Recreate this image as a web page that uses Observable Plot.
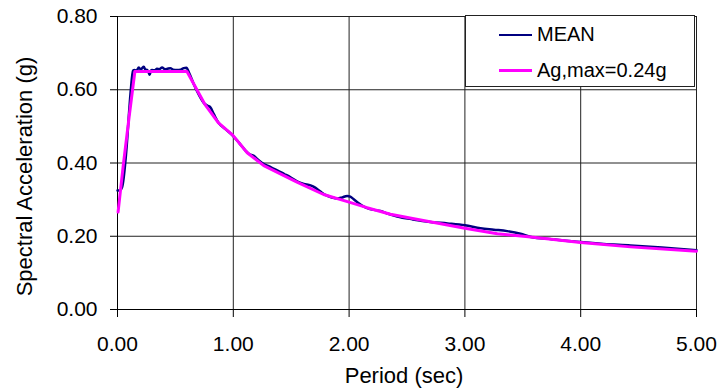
<!DOCTYPE html>
<html>
<head>
<meta charset="utf-8">
<script src="https://cdn.jsdelivr.net/npm/d3@7"></script>
<script src="https://cdn.jsdelivr.net/npm/@observablehq/plot@0.6"></script>
<style>
  html, body { margin: 0; padding: 0; background: #fff; }
  #wrap { position: relative; width: 722px; height: 389px; font-family: "Liberation Sans", Arial, sans-serif; }
  #legend { position: absolute; left: 465px; top: 15px; width: 230px; height: 72px; border: 1px solid #222; background: #fff; box-sizing: border-box; }
  .item { position: absolute; left: 33px; display: flex; align-items: center; font-size: 20px; color: #000; }
  .swatch { width: 33px; height: 0; margin-right: 5px; }
</style>
</head>
<body>
<div id="wrap"></div>
<script>
// Series: MEAN spectrum (period in s, spectral acceleration in g)
const meanPeriod = [0.00,0.02,0.04,0.069,0.085,0.098,0.115,0.134,0.147,0.165,0.184,0.20,0.213,0.227,0.24,0.256,0.268,0.278,0.288,0.298,0.32,0.341,0.36,0.385,0.41,0.428,0.457,0.48,0.514,0.545,0.572,0.595,0.62,0.658,0.70,0.754,0.78,0.802,0.831,0.874,0.93,0.995,1.05,1.105,1.14,1.177,1.206,1.25,1.30,1.379,1.44,1.494,1.55,1.609,1.667,1.70,1.752,1.80,1.85,1.897,1.94,1.983,2.01,2.04,2.08,2.127,2.18,2.271,2.33,2.415,2.55,2.70,2.85,3.00,3.135,3.25,3.365,3.48,3.57,3.75,4.00,4.20,4.43,4.70,5.00];
const meanSa = [0.325,0.325,0.334,0.407,0.47,0.53,0.60,0.652,0.654,0.652,0.661,0.655,0.659,0.663,0.655,0.654,0.648,0.641,0.652,0.654,0.653,0.657,0.656,0.661,0.656,0.657,0.659,0.655,0.654,0.655,0.659,0.660,0.645,0.616,0.588,0.561,0.556,0.552,0.534,0.509,0.493,0.475,0.455,0.434,0.424,0.420,0.411,0.400,0.392,0.380,0.370,0.361,0.350,0.343,0.339,0.334,0.322,0.312,0.306,0.303,0.306,0.310,0.308,0.301,0.291,0.281,0.274,0.269,0.262,0.254,0.246,0.239,0.235,0.230,0.222,0.218,0.214,0.207,0.198,0.192,0.184,0.179,0.175,0.169,0.162];

// Series: design spectrum Ag,max = 0.24g
const designPeriod = [0.005,0.05,0.10,0.15,0.60,0.753,0.87,0.995,1.12,1.263,1.55,1.78,2.00,2.155,2.357,2.56,3.00,3.28,3.57,4.00,4.43,5.00];
const designSa = [0.266,0.394,0.525,0.650,0.650,0.561,0.510,0.476,0.428,0.393,0.348,0.314,0.293,0.278,0.260,0.248,0.222,0.207,0.198,0.183,0.171,0.159];

const xTicks = [0, 1, 2, 3, 4, 5];
const yTicks = [0, 0.2, 0.4, 0.6, 0.8];
const seriesNames = ["MEAN", "Ag,max=0.24g"];
const seriesColors = ["#000080", "#ff00ff"];

const meanData = meanPeriod.map((t, i) => ({t, sa: meanSa[i]}));
const designData = designPeriod.map((t, i) => ({t, sa: designSa[i]}));

const chart = Plot.plot({
  width: 722,
  height: 389,
  marginLeft: 117,
  marginRight: 26,
  marginTop: 16,
  marginBottom: 80,
  style: { fontFamily: "'Liberation Sans', Arial, sans-serif", background: "#fff", color: "#000" },
  x: { domain: [0, 5] },
  y: { domain: [0, 0.8] },
  marks: [
    Plot.gridX(xTicks, { stroke: "#222", strokeOpacity: 1 }),
    Plot.gridY(yTicks, { stroke: "#222", strokeOpacity: 1 }),
    Plot.ruleX([0], { stroke: "#000" }),
    Plot.ruleY([0], { stroke: "#000" }),
    Plot.axisX(xTicks, { tickSize: 8, tickPadding: 19, fontSize: 21, tickFormat: d3.format(".2f"), label: null, stroke: "#000" }),
    Plot.axisY(yTicks, { tickSize: 7, tickPadding: 13, fontSize: 21, tickFormat: d3.format(".2f"), label: null, stroke: "#000" }),
    Plot.line(meanData, { x: "t", y: "sa", stroke: seriesColors[0], strokeWidth: 2.5, curve: "monotone-x" }),
    Plot.line(designData, { x: "t", y: "sa", stroke: seriesColors[1], strokeWidth: 3 }),
    Plot.text(["Spectral Acceleration (g)"], { frameAnchor: "left", textAnchor: "middle", rotate: -90, dx: -93, dy: 13.5, fontSize: 22, lineAnchor: "middle" }),
    Plot.text(["Period (sec)"], { frameAnchor: "bottom", textAnchor: "middle", dx: -3, dy: 66, fontSize: 22, lineAnchor: "middle" })
  ]
});

const wrap = document.getElementById("wrap");
wrap.appendChild(chart);

const legend = document.createElement("div");
legend.id = "legend";
seriesNames.forEach((name, i) => {
  const item = document.createElement("div");
  item.className = "item";
  item.style.top = (i === 0 ? 7 : 43) + "px";
  const sw = document.createElement("div");
  sw.className = "swatch";
  sw.style.borderTop = (i === 0 ? 2.5 : 3) + "px solid " + seriesColors[i];
  const label = document.createElement("span");
  label.textContent = name;
  item.appendChild(sw);
  item.appendChild(label);
  legend.appendChild(item);
});
wrap.appendChild(legend);
</script>
</body>
</html>
